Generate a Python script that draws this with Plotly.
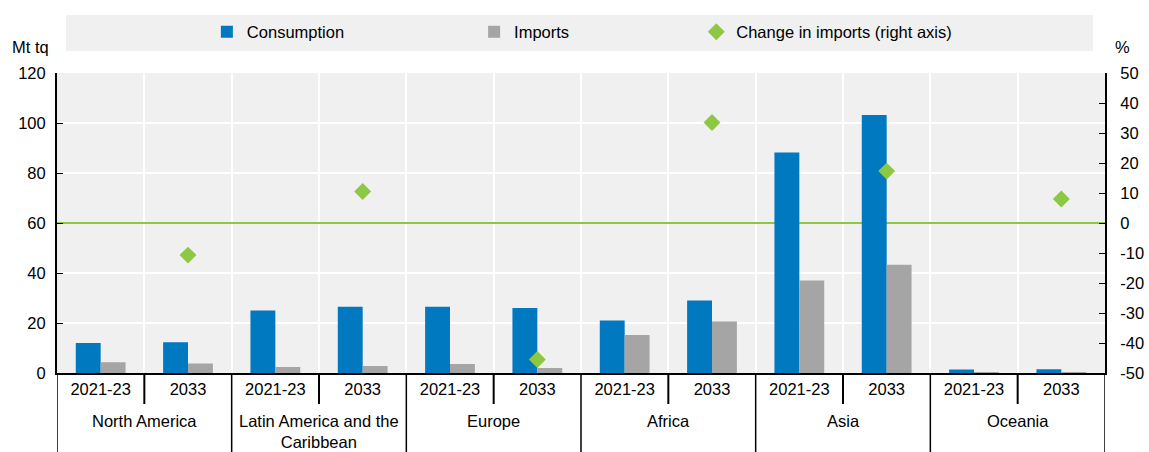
import plotly.graph_objects as go

groups = ["North America", "Latin America and the<br>Caribbean", "Europe", "Africa", "Asia", "Oceania"]
period_labels = ["2021-23", "2033"]
consumption = [12.0, 12.3, 25.0, 26.5, 26.5, 26.0, 21.0, 29.0, 88.2, 103.2, 1.4, 1.5]
imports = [4.3, 3.8, 2.4, 2.8, 3.6, 2.0, 15.2, 20.6, 37.0, 43.3, 0.2, 0.1]
change_imports = [-10.7, 10.5, -45.5, 33.5, 17.3, 8.0]   # 2033 only, per group
right_tick_vals = [-50, -40, -30, -20, -10, 0, 10, 20, 30, 40, 50]
right_tick_text = ["-50", "-40", "-30", "-20", "-10", "0", "10", "20", "30", "40", "50"]

BLUE = "#0079C1"
GREY = "#A5A5A5"
GREEN = "#8CC841"
FONT = "Liberation Sans"
FS = 16.5

n_per = len(period_labels)
xs = list(range(len(groups) * n_per))
tick_text = period_labels * len(groups)
change_x = [g * n_per + (n_per - 1) for g in range(len(groups))]

fig = go.Figure()
fig.add_trace(go.Bar(x=xs, y=consumption, name="Consumption", legend="legend",
                     marker=dict(color=BLUE, line=dict(width=0))))
fig.add_trace(go.Bar(x=xs, y=imports, name="Imports", legend="legend2",
                     marker=dict(color=GREY, line=dict(width=0))))
fig.add_trace(go.Scatter(x=change_x, y=change_imports, legend="legend3",
                         name="Change in imports (right axis)", yaxis="y2", mode="markers",
                         marker=dict(symbol="diamond", size=13, color=GREEN,
                                     line=dict(width=0))))

# separators and group labels below the axis
bottom = -79 / 300
inner_bottom = -31 / 300
shapes = [dict(type="rect", xref="paper", yref="paper", x0=0.0086, x1=0.9885,
               y0=1.073, y1=1.193, fillcolor="#F0F0F0", line=dict(width=0), layer="below")]
annotations = []
for g in range(len(groups)):
    left = g * n_per - 0.5
    shapes.append(dict(type="line", xref="x", yref="paper", x0=left, x1=left,
                       y0=0, y1=bottom, line=dict(color="black", width=1.5)))
    for k in range(1, n_per):
        xi = left + k
        shapes.append(dict(type="line", xref="x", yref="paper", x0=xi, x1=xi,
                           y0=0, y1=inner_bottom, line=dict(color="black", width=2)))
    annotations.append(dict(text=groups[g], xref="x", yref="paper",
                            x=left + n_per / 2, y=-37 / 300, yanchor="top",
                            showarrow=False, font=dict(size=FS)))
right_edge = len(xs) - 0.5
shapes.append(dict(type="line", xref="x", yref="paper", x0=right_edge, x1=right_edge,
                   y0=0, y1=bottom, line=dict(color="black", width=1.5)))

annotations += [
    dict(text="Mt tq", xref="paper", yref="paper", x=-0.045, y=(373 - 47) / 300,
         xanchor="left", yanchor="middle", showarrow=False, font=dict(size=FS)),
    dict(text="%", xref="paper", yref="paper", x=1.008, y=(373 - 47) / 300,
         xanchor="left", yanchor="middle", showarrow=False, font=dict(size=FS)),
]

leg_common = dict(orientation="h", yref="paper", y=(373 - 32) / 300, yanchor="middle",
                  xanchor="left", bgcolor="rgba(0,0,0,0)", font=dict(size=FS),
                  itemwidth=30)

fig.update_layout(
    width=1149, height=452,
    margin=dict(l=57, r=44, t=73, b=79, autoexpand=False),
    paper_bgcolor="white", plot_bgcolor="#F0F0F0",
    font=dict(family=FONT, size=FS, color="black"),
    barmode="group", bargap=0.43, bargroupgap=0,
    showlegend=True,
    legend=dict(leg_common, x=0.143),
    legend2=dict(leg_common, x=0.398),
    legend3=dict(leg_common, x=0.610),
    xaxis=dict(range=[-0.5, len(xs) - 0.5], tickvals=xs, ticktext=tick_text,
               showgrid=False, ticks="", zeroline=False,
               minor=dict(tickvals=[i - 0.5 for i in range(len(xs) + 1)], showgrid=True,
                          gridcolor="white", gridwidth=2, ticks=""),
               showline=True, linecolor="black", linewidth=2,
               tickfont=dict(size=FS)),
    yaxis=dict(range=[0, 120], dtick=20, showgrid=True, gridcolor="white", gridwidth=2,
               showline=True, linecolor="black", linewidth=2, ticks="inside", ticklen=6,
               tickcolor="black", zeroline=False, tickfont=dict(size=FS),
               ticklabelstandoff=6),
    yaxis2=dict(range=[-50, 50], tickvals=right_tick_vals, ticktext=right_tick_text,
                overlaying="y", side="right", showgrid=False,
                showline=True, linecolor="black", linewidth=2, ticks="inside", ticklen=6,
                tickcolor="black", zeroline=True, zerolinecolor=GREEN, zerolinewidth=2,
                tickfont=dict(size=FS), ticklabelstandoff=10),
    shapes=shapes,
    annotations=annotations,
)

fig.write_html("out.html", config={"displayModeBar": False},
               post_script="document.body.style.margin='0';document.body.style.overflow='hidden';")
